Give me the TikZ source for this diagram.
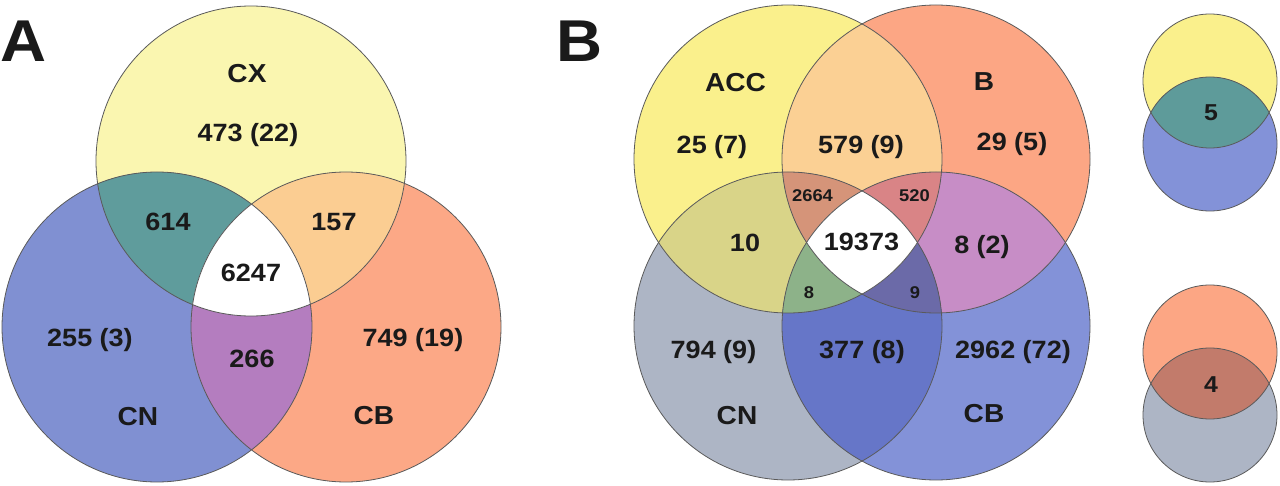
\documentclass[tikz,border=0pt]{standalone}
\usepackage{fontspec}
\setmainfont{Liberation Sans}[FakeStretch=1.08]
\definecolor{txt}{HTML}{1A1A1A}
\definecolor{rimc}{HTML}{5A5A5A}
% panel A
\definecolor{aY}{HTML}{FAF6B0}
\definecolor{aB}{HTML}{8090D2}
\definecolor{aS}{HTML}{FCA886}
\definecolor{aYB}{HTML}{5F9C9C}
\definecolor{aYS}{HTML}{FBCD92}
\definecolor{aBS}{HTML}{B47DBF}
% panel B
\definecolor{bY}{HTML}{FAF08C}
\definecolor{bS}{HTML}{FCA684}
\definecolor{bG}{HTML}{ADB5C5}
\definecolor{bB}{HTML}{8392D8}
\definecolor{bYS}{HTML}{FBD094}
\definecolor{bYG}{HTML}{D9D488}
\definecolor{bSB}{HTML}{C78DC6}
\definecolor{bGB}{HTML}{6676C8}
\definecolor{bYSG}{HTML}{D59479}
\definecolor{bYSB}{HTML}{D98486}
\definecolor{bYGB}{HTML}{8DB289}
\definecolor{bSGB}{HTML}{6B6AA8}
\definecolor{sYB}{HTML}{5E9B9A}
\definecolor{sSG}{HTML}{C27B6B}

\begin{document}
\begin{tikzpicture}[x=1pt,y=-1pt,
  lab/.style={font=\fontsize{26}{30}\selectfont\bfseries, text=txt, inner sep=0pt, anchor=base},
  num/.style={font=\fontsize{25}{30}\selectfont\bfseries, text=txt, inner sep=0pt, anchor=base},
  smallnum/.style={font=\fontsize{17}{20}\selectfont\bfseries, text=txt, inner sep=0pt, anchor=base},
  panel/.style={font=\fontsize{59}{60}\selectfont\bfseries, text=txt, inner sep=0pt, anchor=base},
  rim/.style={draw=rimc, line width=0.8pt}]
\useasboundingbox (0,0) rectangle (1280,486);
\fill[white] (0,0) rectangle (1280,486);

% ---------- Panel A ----------
\def\CX{(251,161) circle[radius=155pt]}
\def\CNa{(157,327) circle[radius=155pt]}
\def\CBa{(346,327) circle[radius=155pt]}
\fill[aY] \CX; \fill[aB] \CNa; \fill[aS] \CBa;
\begin{scope}\clip \CX; \fill[aYB] \CNa; \fill[aYS] \CBa; \end{scope}
\begin{scope}\clip \CNa; \fill[aBS] \CBa; \end{scope}
\begin{scope}\clip \CX; \clip \CNa; \fill[white] \CBa; \end{scope}
\draw[rim] \CX; \draw[rim] \CNa; \draw[rim] \CBa;

\node[panel] (pA) at (23.5,62) {A};
\node[lab] (lCX) at (247,82.3) {CX};
\node[num] (n473) at (248,142) {473 (22)};
\node[num] (n614) at (168,231) {614};
\node[num] (n157) at (334,231) {157};
\node[num] (n6247) at (251,282) {6247};
\node[num] (n255) at (90,347) {255 (3)};
\node[num] (n266) at (252,367) {266};
\node[num] (n749) at (413,347) {749 (19)};
\node[lab] (lCNa) at (138,425.5) {CN};
\node[lab] (lCBa) at (374,424) {CB};

% ---------- Panel B ----------
\def\ACC{(788,159) circle[radius=154pt]}
\def\Bc{(936,159) circle[radius=154pt]}
\def\CNb{(788,326) circle[radius=154pt]}
\def\CBb{(936,326) circle[radius=154pt]}
\fill[bY] \ACC; \fill[bS] \Bc; \fill[bG] \CNb; \fill[bB] \CBb;
\begin{scope}\clip \ACC; \fill[bYS] \Bc; \fill[bYG] \CNb; \fill[bYGB] \CBb; \end{scope}
\begin{scope}\clip \Bc; \fill[bSB] \CBb; \fill[bSGB] \CNb; \end{scope}
\begin{scope}\clip \CNb; \fill[bGB] \CBb; \end{scope}
\begin{scope}\clip \ACC; \clip \Bc; \fill[bYSG] \CNb; \fill[bYSB] \CBb; \end{scope}
\begin{scope}\clip \ACC; \clip \CNb; \fill[bYGB] \CBb; \end{scope}
\begin{scope}\clip \Bc; \clip \CNb; \fill[bSGB] \CBb; \end{scope}
\begin{scope}\clip \ACC; \clip \Bc; \clip \CNb; \fill[white] \CBb; \end{scope}
\draw[rim] \ACC; \draw[rim] \Bc; \draw[rim] \CNb; \draw[rim] \CBb;

\node[panel] (pB) at (580,61.7) {B};
\node[lab] (lACC) at (735.5,92) {ACC};
\node[num] (n25) at (712,154) {25 (7)};
\node[num] (n579) at (861,154) {579 (9)};
\node[lab] (lB) at (984,91) {B};
\node[num] (n29) at (1012,151) {29 (5)};
\node[smallnum] (n2664) at (812.5,202) {2664};
\node[smallnum] (n520) at (914.5,202) {520};
\node[num] (n10) at (745,252) {10};
\node[num] (n19373) at (861.5,251) {19373};
\node[num] (n82) at (982,254) {8 (2)};
\node[smallnum] (n8) at (809,299) {8};
\node[smallnum] (n9) at (915,299) {9};
\node[num] (n794) at (713.5,359) {794 (9)};
\node[num] (n377) at (862,359) {377 (8)};
\node[num] (n2962) at (1013,359) {2962 (72)};
\node[lab] (lCNb) at (737,424) {CN};
\node[lab] (lCBb) at (984,422) {CB};

% ---------- small pairs ----------
\def\sYa{(1210,81) circle[radius=67pt]}
\def\sBa{(1210,144) circle[radius=67pt]}
\def\sSa{(1210,352) circle[radius=67pt]}
\def\sGa{(1210,415) circle[radius=67pt]}
\fill[bY] \sYa; \fill[bB] \sBa;
\begin{scope}\clip \sYa; \fill[sYB] \sBa; \end{scope}
\fill[bS] \sSa; \fill[bG] \sGa;
\begin{scope}\clip \sSa; \fill[sSG] \sGa; \end{scope}
\draw[rim] \sYa; \draw[rim] \sBa; \draw[rim] \sSa; \draw[rim] \sGa;
\node[num, font=\fontsize{23}{28}\selectfont\bfseries] (n5) at (1211,121) {5};
\node[num, font=\fontsize{23}{28}\selectfont\bfseries] (n4) at (1211,392) {4};
\end{tikzpicture}
\end{document}
